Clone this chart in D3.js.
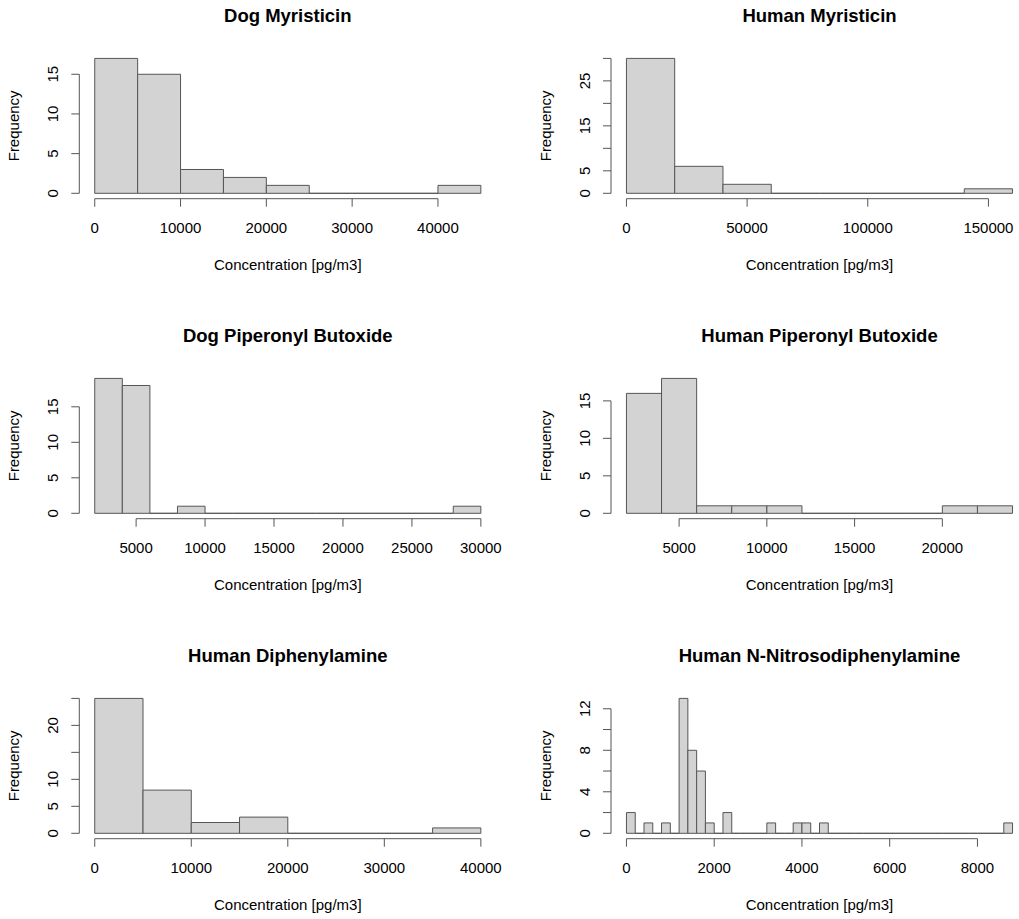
<!DOCTYPE html>
<html>
<head>
<meta charset="utf-8">
<script src="https://cdn.jsdelivr.net/npm/d3@7"></script>
<style>
  body { margin: 0; background: #fff; }
  text { font-family: "Liberation Sans", Arial, sans-serif; fill: #000; }
</style>
</head>
<body>
<svg id="chart" width="1019" height="919"></svg>
<script>
// histogram data
const titles = ['Dog Myristicin', 'Human Myristicin', 'Dog Piperonyl Butoxide',
                'Human Piperonyl Butoxide', 'Human Diphenylamine', 'Human N-Nitrosodiphenylamine']

const binStart = [0, 0, 2000, 2000, 0, 0]
const binWidth = [5000, 20000, 2000, 2000, 5000, 200]

const dogMyristicin = [17, 15, 3, 2, 1, 0, 0, 0, 1]
const humanMyristicin = [30, 6, 2, 0, 0, 0, 0, 1]
const dogPBO = [19, 18, 0, 1, 0, 0, 0, 0, 0, 0, 0, 0, 0, 1]
const humanPBO = [16, 18, 1, 1, 1, 0, 0, 0, 0, 1, 1]
const humanDPA = [25, 8, 2, 3, 0, 0, 0, 1]
const humanNDPA = [2, 0, 1, 0, 1, 0, 13, 8, 6, 1, 0, 2, 0, 0, 0, 0, 1, 0, 0, 1, 1, 0, 1,
                   0, 0, 0, 0, 0, 0, 0, 0, 0, 0, 0, 0, 0, 0, 0, 0, 0, 0, 0, 0, 1]
const counts = [dogMyristicin, humanMyristicin, dogPBO, humanPBO, humanDPA, humanNDPA]

const xTicks = [
  [0, 10000, 20000, 30000, 40000],
  [0, 50000, 100000, 150000],
  [5000, 10000, 15000, 20000, 25000, 30000],
  [5000, 10000, 15000, 20000],
  [0, 10000, 20000, 30000, 40000],
  [0, 2000, 4000, 6000, 8000]
]
const yTicks = [
  [0, 5, 10, 15],
  [0, 5, 10, 15, 20, 25, 30],
  [0, 5, 10, 15],
  [0, 5, 10, 15],
  [0, 5, 10, 15, 20, 25],
  [0, 2, 4, 6, 8, 10, 12]
]
const yLabels = [
  [0, 5, 10, 15],
  [0, 5, 15, 25],
  [0, 5, 10, 15],
  [0, 5, 10, 15],
  [0, 5, 10, 20],
  [0, 4, 8, 12]
]

const xLabel = 'Concentration [pg/m3]'
const yLabel = 'Frequency'

const panelW = 531.7, panelH = 320
const plotLeft = 79.3, plotW = 417, plotTop = 53, plotBottom = 198.7
const ink = '#555'

const svg = d3.select('#chart')

titles.forEach((title, k) => {
  const col = k % 2, row = Math.floor(k / 2)
  const g = svg.append('g')
    .attr('transform', `translate(${col * panelW},${row * panelH})`)

  const bins = counts[k].map((c, i) => ({
    x0: binStart[k] + i * binWidth[k],
    x1: binStart[k] + (i + 1) * binWidth[k],
    n: c
  }))
  const lo = bins[0].x0, hi = bins[bins.length - 1].x1
  const maxN = d3.max(counts[k])

  const x = d3.scaleLinear()
    .domain([lo - 0.04 * (hi - lo), hi + 0.04 * (hi - lo)])
    .range([plotLeft, plotLeft + plotW])
  const y = d3.scaleLinear()
    .domain([-0.04 * maxN, 1.04 * maxN])
    .range([plotBottom, plotTop])

  g.selectAll('path.bar')
    .data(bins)
    .enter()
    .append('path')
    .attr('class', 'bar')
    .attr('d', d => `M${x(d.x0)},${y(0)}H${x(d.x1)}V${y(d.n)}H${x(d.x0)}Z`)
    .attr('fill', '#d3d3d3')
    .attr('stroke', ink)
    .attr('stroke-width', 1)

  // x axis
  const xt = xTicks[k]
  g.append('line')
    .attr('x1', x(xt[0])).attr('x2', x(xt[xt.length - 1]))
    .attr('y1', plotBottom).attr('y2', plotBottom)
    .attr('stroke', ink)
  g.selectAll('line.xtick')
    .data(xt)
    .enter()
    .append('line')
    .attr('class', 'xtick')
    .attr('x1', d => x(d)).attr('x2', d => x(d))
    .attr('y1', plotBottom).attr('y2', plotBottom + 8)
    .attr('stroke', ink)
  g.selectAll('text.xtl')
    .data(xt)
    .enter()
    .append('text')
    .attr('class', 'xtl')
    .attr('x', d => x(d))
    .attr('y', plotBottom + 34.6)
    .style('font-size', '15px')
    .style('text-anchor', 'middle')
    .text(d => d)

  // y axis
  const yt = yTicks[k]
  g.append('line')
    .attr('x1', plotLeft).attr('x2', plotLeft)
    .attr('y1', y(yt[0])).attr('y2', y(yt[yt.length - 1]))
    .attr('stroke', ink)
  g.selectAll('line.ytick')
    .data(yt)
    .enter()
    .append('line')
    .attr('class', 'ytick')
    .attr('x1', plotLeft - 8).attr('x2', plotLeft)
    .attr('y1', d => y(d)).attr('y2', d => y(d))
    .attr('stroke', ink)
  g.selectAll('text.ytl')
    .data(yLabels[k])
    .enter()
    .append('text')
    .attr('class', 'ytl')
    .attr('transform', d => `translate(${plotLeft - 21},${y(d)}) rotate(-90)`)
    .style('font-size', '15px')
    .style('text-anchor', 'middle')
    .text(d => d)

  // labels
  const cx = plotLeft + plotW / 2
  g.append('text')
    .attr('x', cx)
    .attr('y', 21.5)
    .style('font-size', '18.5px')
    .style('font-weight', 'bold')
    .style('text-anchor', 'middle')
    .text(title)

  g.append('text')
    .attr('x', cx)
    .attr('y', 270)
    .style('font-size', '15px')
    .style('text-anchor', 'middle')
    .text(xLabel)

  g.append('text')
    .attr('transform', `translate(${plotLeft - 60},${(plotTop + plotBottom) / 2}) rotate(-90)`)
    .style('font-size', '15px')
    .style('text-anchor', 'middle')
    .text(yLabel)
})
</script>
</body>
</html>
